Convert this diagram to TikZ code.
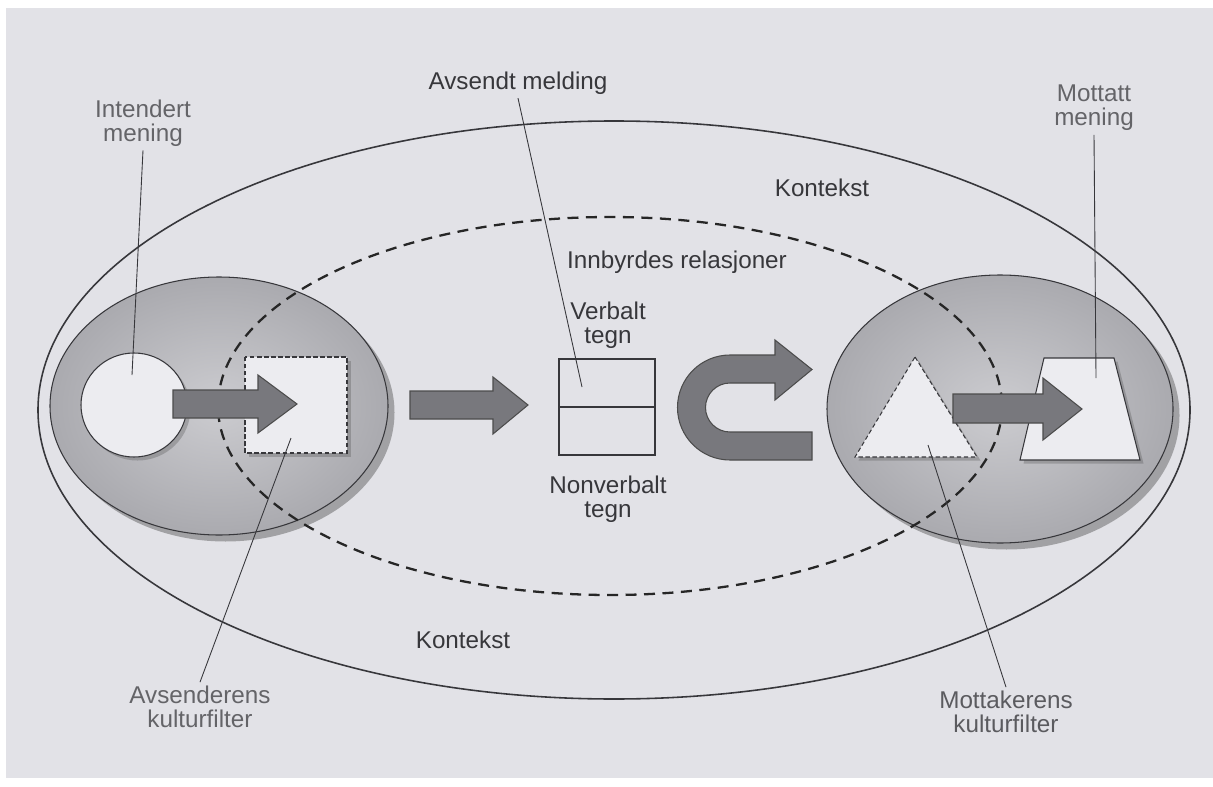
\documentclass[tikz,border=0pt]{standalone}
\usepackage{fontspec}
\setmainfont{Liberation Sans}
\usepackage{tikz}
\usetikzlibrary{shadows}

\definecolor{pagegrey}{RGB}{226,226,231}
\definecolor{discin}{RGB}{204,204,208}
\definecolor{discout}{RGB}{170,170,175}
\definecolor{arrowgrey}{RGB}{120,120,125}
\definecolor{paperwhite}{RGB}{236,236,240}
\definecolor{inkdark}{RGB}{55,55,59}
\definecolor{inklight}{RGB}{100,100,104}

\tikzset{
  context/.style={draw=inkdark, line width=0.9pt},
  relation/.style={draw=black!85, line width=1.3pt, dash pattern=on 0.22cm off 0.15cm},
  filterdisc/.style={draw=inkdark, line width=0.6pt, shade, inner color=discin, outer color=discout,
    drop shadow={shadow xshift=0.13cm, shadow yshift=-0.13cm, opacity=0.4, fill=black!75}},
  meaning/.style={draw=inkdark, line width=0.6pt, fill=paperwhite,
    drop shadow={shadow xshift=2pt, shadow yshift=-2pt, opacity=0.3, fill=black!70}},
  signbox/.style={draw=inkdark, line width=0.7pt},
  blockarrow/.style={draw=black!70, line width=0.6pt, fill=arrowgrey},
  lbl/.style={font=\fontsize{13.8}{13.8}\selectfont, text=inkdark, align=center, inner sep=2pt},
  lbllight/.style={lbl, text=inklight},
  leader/.style={draw=inkdark, line width=0.5pt}
}

\begin{document}
\begin{tikzpicture}[x=0.02cm, y=-0.02cm]
    \useasboundingbox (0,0) rectangle (1213,787);
    % page
    \fill[white] (0,0) rectangle (1213,787);
    \fill[pagegrey] (6,8) rectangle (1213,778);

    % context, cultural filters and relations
    \draw[context] (614,410) ellipse (576 and 289);
    \path[filterdisc] (219,406) ellipse (169 and 129);
    \path[filterdisc] (1000,409) ellipse (173 and 134);
    \draw[relation] (610,406) ellipse (392 and 189);

    % meanings
    \draw[meaning] (134,405) ellipse (53 and 52);
    \draw[meaning, dash pattern=on 2.5pt off 1.5pt] (245,357) rectangle (347,453);
    \draw[meaning, dash pattern=on 2.5pt off 1.5pt] (915,357) -- (977,457) -- (855,457) -- cycle;
    \draw[meaning] (1044,358) -- (1114,358) -- (1140,460) -- (1020,460) -- cycle;

    % signs
    \draw[signbox] (559,359) rectangle (655,455);
    \draw[signbox] (559,407) -- (655,407);

    % flow
    \draw[blockarrow] (173,390) -- (258,390) -- (258,375) -- (297,404) -- (258,433) -- (258,418) -- (173,418) -- cycle;
    \draw[blockarrow] (410,391) -- (493,391) -- (493,377) -- (528,405) -- (493,434) -- (493,419) -- (410,419) -- cycle;
    \draw[blockarrow] (812,432) -- (730,432) arc (90:270:24.5) -- (775,383) -- (775,400) -- (812,369.5)
        -- (775,340) -- (775,355) -- (730,355) arc (270:90:52.5) -- (812,460) -- cycle;
    \draw[blockarrow] (953,394) -- (1043,394) -- (1043,378) -- (1082,409) -- (1043,440) -- (1043,423) -- (953,423) -- cycle;

    % labels
    \node[lbllight] (intended) at (143,123) {Intendert\\mening};
    \node[lbl] (sent) at (518,83) {Avsendt melding};
    \node[lbllight] (received) at (1094,108) {Mottatt\\mening};
    \node[lbl] (ctxtop) at (822,188) {Kontekst};
    \node[lbl] (ctxbottom) at (463,640) {Kontekst};
    \node[lbl] (relations) at (677,262) {Innbyrdes relasjoner};
    \node[lbl] (verbal) at (608,325) {Verbalt\\tegn};
    \node[lbl] (nonverbal) at (608,499) {Nonverbalt\\tegn};
    \node[lbllight] (senderfilter) at (200,707) {Avsenderens\\kulturfilter};
    \node[lbl, text=inklight!80!inkdark] (receiverfilter) at (1006,712) {Mottakerens\\kulturfilter};

    % leader lines
    \coordinate (intendedEnd) at (132,375);
    \coordinate (sentEnd) at (582,387);
    \coordinate (receivedEnd) at (1096,378);
    \coordinate (senderEnd) at (291,438);
    \coordinate (receiverEnd) at (928,445);
    \draw[leader] (intended.south) -- (intendedEnd);
    \draw[leader] (sent.south) -- (sentEnd);
    \draw[leader] (received.south) -- (receivedEnd);
    \draw[leader] (senderfilter.north) -- (senderEnd);
    \draw[leader] (receiverfilter.north) -- (receiverEnd);
\end{tikzpicture}
\end{document}
